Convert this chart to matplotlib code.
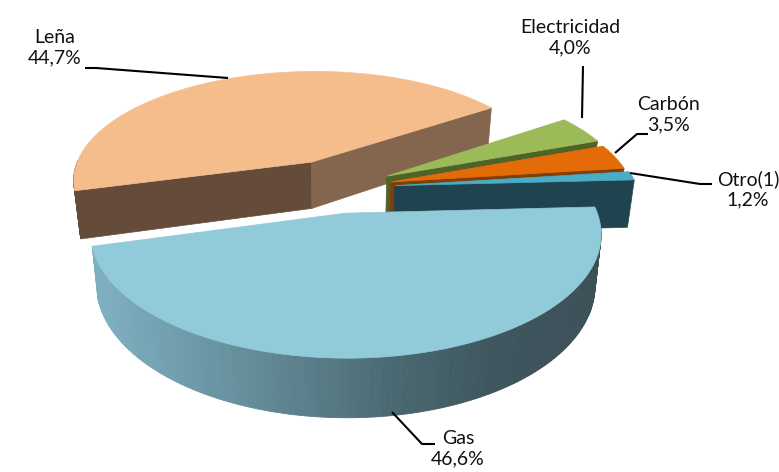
import numpy as np
import matplotlib
matplotlib.use('Agg')
import matplotlib.pyplot as plt
from matplotlib.colors import LinearSegmentedColormap

plt.rcParams['font.family'] = ['Lato', 'DejaVu Sans']

# data, clockwise from Leña
categorias = ["Leña", "Electricidad", "Carbón", "Otro(1)", "Gas"]
valores = [44.7, 4.0, 3.5, 1.2, 46.6]

color_top = ["#F6BD8C", "#9BBB59", "#E36C09", "#4BACC6", "#91CAD9"]
color_side_a = ["#654C3A", "#4F6228", "#7F3F0B", "#1F4450", "#3D5158"]
color_side_b = ["#84664F", "#4F6228", "#7F3F0B", "#1F4450", "#3D5158"]

# projection of the tilted pie
CX, CY = 337, 188
A, B, K = 243, 112.8, 0.16
D = 48
SHRINK = 0.977
explode = [0.262, 0.234, 0.23, 0.24, 0.218]
START = 195.2


def proj(x, y, bottom=False):
    x = np.asarray(x, dtype=float)
    y = np.asarray(y, dtype=float)
    f = 1 / (1 + K * y)
    sx = A * x * f
    sy = CY - B * y * f
    if bottom:
        return CX + sx * SHRINK, sy + D * f
    return CX + sx, sy


fig = plt.figure(figsize=(7.79, 4.72), dpi=100)
ax = fig.add_axes([0, 0, 1, 1])
ax.set_xlim(0, 779)
ax.set_ylim(472, 0)
ax.axis('off')

gas_cmap = LinearSegmentedColormap.from_list(
    "gas", ["#7FB0C2", "#6D9AA8", "#5D828E", "#4A6972", "#3F565E", "#3C5058"])

t = START
for i in range(len(valores)):
    t0 = t
    t1 = t - valores[i] * 3.6
    t = t1
    mid = np.radians((t0 + t1) / 2)
    ox, oy = explode[i] * np.cos(mid), explode[i] * np.sin(mid)
    ang = np.radians(np.linspace(t0, t1, 160))
    px = ox + np.cos(ang)
    py = oy + np.sin(ang)

    # radial faces
    for edge, normal, col in [(t0, t0 + 90, color_side_a[i]), (t1, t1 - 90, color_side_b[i])]:
        if np.sin(np.radians(normal)) < 0:
            ex = np.array([ox, ox + np.cos(np.radians(edge))])
            ey = np.array([oy, oy + np.sin(np.radians(edge))])
            xa, ya = proj(ex, ey)
            xb, yb = proj(ex, ey, bottom=True)
            ax.fill(np.r_[xa, xb[::-1]], np.r_[ya, yb[::-1]], color=col, lw=0.5)

    # outer wall, only the part that faces the front
    xa, ya = proj(px, py)
    xb, yb = proj(px, py, bottom=True)
    for j in range(len(ang) - 1):
        if np.sin(ang[j]) >= 0 and categorias[i] != "Gas":
            continue
        if categorias[i] == "Gas":
            c = gas_cmap(np.clip((xa[j] - 95) / 500, 0, 1))
        else:
            c = color_side_a[i]
        ax.fill([xa[j], xa[j + 1], xb[j + 1], xb[j]],
                [ya[j], ya[j + 1], yb[j + 1], yb[j]], color=c, lw=0.6)

    # top
    tx, ty = proj(np.r_[ox, px], np.r_[oy, py])
    ax.fill(tx, ty, color=color_top[i], lw=0.5)

# leader lines and labels
guias = {
    "Leña": ([85, 96, 228], [68, 68, 78]),
    "Electricidad": ([583, 582], [66, 118]),
    "Carbón": ([648, 637, 615], [134, 134, 153]),
    "Otro(1)": ([630, 700, 712], [173, 184, 184]),
    "Gas": ([392, 422, 435], [412, 444, 444]),
}
pos_label = {
    "Leña": (55, 48),
    "Electricidad": (570, 38),
    "Carbón": (669, 115),
    "Otro(1)": (748, 189),
    "Gas": (458, 449),
}
for nombre, val in zip(categorias, valores):
    gx, gy = guias[nombre]
    ax.plot(gx, gy, color="black", lw=1.5, solid_capstyle='butt', zorder=5)
    lx, ly = pos_label[nombre]
    ax.text(lx, ly, f"{nombre}\n{val:.1f}%".replace(".", ","), ha="center", va="center",
            fontsize=14, color="#111111", linespacing=1.25, zorder=6)

plt.savefig("out.png", dpi=100)
plt.close()
